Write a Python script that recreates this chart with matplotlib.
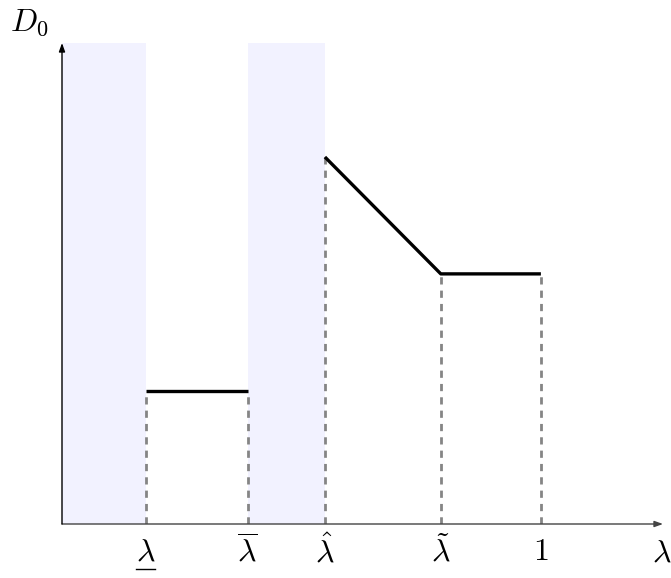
import matplotlib.pyplot as plt
import matplotlib.transforms as mtransforms

plt.rcParams["mathtext.fontset"] = "cm"

# positions along the lambda axis (1 = full scale)
lam_lo = 0.175
lam_bar = 0.388
lam_hat = 0.549
lam_tilde = 0.791
lam_one = 1.0
tick_pos = [lam_lo, lam_bar, lam_hat, lam_tilde, lam_one]
tick_labels = [r"$\lambda$", r"$\overline{\lambda}$", r"$\hat{\lambda}$", r"$\tilde{\lambda}$", r"$1$"]

# D0 levels
d_low = 0.277
d_hat = 0.763
d_plateau = 0.52

# shaded intervals
bands = [(0.0, lam_lo), (lam_bar, lam_hat)]

fig = plt.figure(figsize=(6.71, 5.78), dpi=100)
ax = fig.add_axes([62 / 671, 54 / 578, 601 / 671, 481 / 578])
ax.set_xlim(0, 1.255)
ax.set_ylim(0, 1)
ax.axis("off")

for a, b in bands:
    ax.axvspan(a, b, ymin=0, ymax=1, color="#f2f2ff", lw=0, zorder=0)

# dashed guides
guide_lvls = [d_low, d_low, d_hat, d_plateau, d_plateau]
for x, y in zip(tick_pos, guide_lvls):
    ax.plot([x, x], [0, y], color="#858585", lw=2.0, ls=(0, (2.6, 2.2)), zorder=1)

# D0 segments
ax.plot([lam_lo, lam_bar], [d_low, d_low], color="black", lw=2.4, solid_capstyle="butt", zorder=3)
ax.plot([lam_hat, lam_tilde, lam_one], [d_hat, d_plateau, d_plateau], color="black", lw=2.4,
        solid_capstyle="butt", zorder=3)

# axes with arrows
ax.annotate("", xy=(1.255, 0), xytext=(0, 0),
            arrowprops=dict(arrowstyle="-|>,head_length=0.5,head_width=0.18", color="#444444", lw=1.0,
                            shrinkA=0, shrinkB=0))
ax.annotate("", xy=(0, 1.0), xytext=(0, 0),
            arrowprops=dict(arrowstyle="-|>,head_length=0.5,head_width=0.18", color="black", lw=1.0,
                            shrinkA=0, shrinkB=0))

trans = mtransforms.blended_transform_factory(ax.transData, ax.transAxes)
for x, lab in zip(tick_pos, tick_labels):
    ax.text(x, -0.058, lab, transform=trans, ha="center", va="center", fontsize=23)
# underline for the lower bound label
ax.plot([lam_lo - 0.02, lam_lo + 0.02], [-0.093, -0.093], transform=trans, color="black",
        lw=1.0, clip_on=False)

ax.text(1.232, -0.06, r"$\lambda$", transform=trans, ha="left", va="center", fontsize=23)
ax.text(-0.108, 1.043, r"$D_0$", transform=trans, ha="left", va="center", fontsize=23)

fig.savefig("out.png", dpi=100)
